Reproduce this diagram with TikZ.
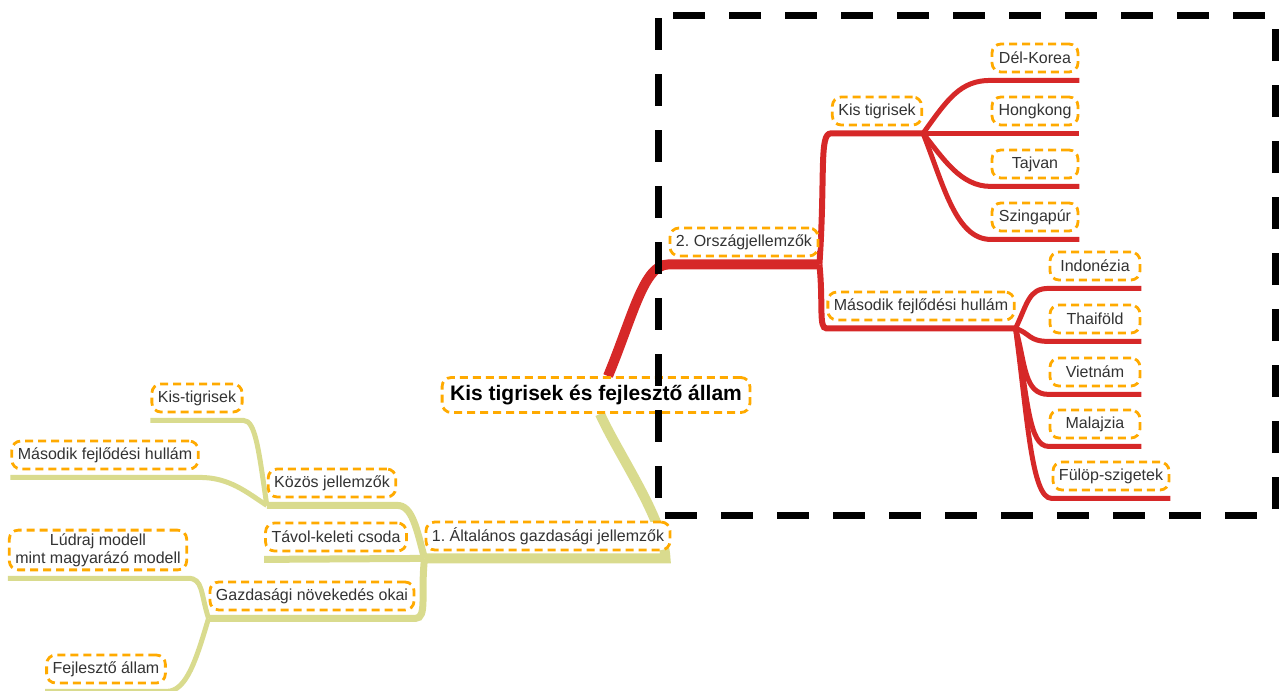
\documentclass[tikz,border=0pt]{standalone}
\usepackage{fontspec}
\setmainfont{Liberation Sans}
\frenchspacing
\usetikzlibrary{backgrounds}
\definecolor{topicorange}{RGB}{255,170,0}
\definecolor{branchred}{RGB}{214,40,40}
\definecolor{brancholive}{RGB}{217,219,142}
\definecolor{topictext}{RGB}{51,51,51}
\tikzset{
    topic/.style={draw=topicorange, fill=white, line width=2.8pt, dash pattern=on 8pt off 5pt,
        rounded corners=9pt, text=topictext, font=\fontsize{16}{19}\selectfont,
        inner xsep=6pt, minimum height=28pt},
    roottopic/.style={topic, text=black, font=\fontsize{21}{23}\selectfont\bfseries,
        inner xsep=8pt, minimum height=35pt},
    leafa/.style={topic, minimum width=86pt},
    leafb/.style={topic, minimum width=90pt},
    redtrunk/.style={draw=branchred, line width=10pt},
    redbranch/.style={draw=branchred, line width=6pt},
    redleaf/.style={draw=branchred, line width=5pt},
    olivetrunk/.style={draw=brancholive, line width=10pt},
    olivebranch/.style={draw=brancholive, line width=7pt},
    oliveleaf/.style={draw=brancholive, line width=5pt},
    groupframe/.style={draw=black, line width=7pt, dash pattern=on 32pt off 24pt, dash phase=53pt},
}
\begin{document}
\begin{tikzpicture}[x=1pt, y=-1pt]
    \useasboundingbox (0,0) rectangle (1283,691);
    %
    \node[roottopic] (root) at (596,395) {Kis tigrisek és fejlesztő állam};
    %
    \node[topic] (orz)    at (744,242) {2. Országjellemzők};
    \node[topic] (kistig) at (877,111) {Kis tigrisek};
    \node[leafa] (delk)   at (1035,58)  {Dél-Korea};
    \node[leafa] (hongk)  at (1035,111) {Hongkong};
    \node[leafa] (tajv)   at (1035,164) {Tajvan};
    \node[leafa] (szing)  at (1035,217) {Szingapúr};
    \node[topic] (masod)  at (921,306) {Második fejlődési hullám};
    \node[leafb] (indo)   at (1095,266) {Indonézia};
    \node[leafb] (thai)   at (1095,319) {Thaiföld};
    \node[leafb] (viet)   at (1095,372) {Vietnám};
    \node[leafb] (mal)    at (1095,424) {Malajzia};
    \node[topic] (fulop)  at (1111,476) {Fülöp-szigetek};
    %
    \node[topic] (alt)    at (548,536) {1. Általános gazdasági jellemzők};
    \node[topic] (kozos)  at (332,483) {Közös jellemzők};
    \node[topic] (tavol)  at (336,537) {Távol-keleti csoda};
    \node[topic] (kistl)  at (197,398) {Kis-tigrisek};
    \node[topic] (masl)   at (105,455) {Második fejlődési hullám};
    \node[topic] (gazd)   at (312,596) {Gazdasági növekedés okai};
    \node[topic, align=center, font=\fontsize{16}{18}\selectfont] (ludr) at (98,550) {Lúdraj modell\\mint magyarázó modell};
    \node[topic] (fejl)   at (106,669) {Fejlesztő állam};
    %
    \begin{scope}[on background layer]
    % right branch
    \draw[redtrunk] ([xshift=12pt]root.north) .. controls +(25,-60) and +(-25,0) .. ([yshift=-7pt]orz.south west) -- ([yshift=-7pt]orz.south east);
    \draw[redbranch] ([yshift=-7pt]orz.south east) .. controls +(6,-90) and +(-12,0) .. ([yshift=-7pt]kistig.south west) -- ([yshift=-7pt]kistig.south east);
    \draw[redbranch] ([yshift=-7pt]orz.south east) .. controls +(4,40) and +(-8,0) .. ([yshift=-7pt]masod.south west) -- ([yshift=-7pt]masod.south east);
    \draw[redleaf] ([yshift=-7pt]kistig.south east) .. controls +(25,-35) and +(-30,0) .. ([yshift=-7pt]delk.south west) -- ([yshift=-7pt]delk.south east);
    \draw[redleaf] ([yshift=-7pt]kistig.south east) -- ([yshift=-7pt]hongk.south west) -- ([yshift=-7pt]hongk.south east);
    \draw[redleaf] ([yshift=-7pt]kistig.south east) .. controls +(20,25) and +(-30,0) .. ([yshift=-7pt]tajv.south west) -- ([yshift=-7pt]tajv.south east);
    \draw[redleaf] ([yshift=-7pt]kistig.south east) .. controls +(20,50) and +(-35,0) .. ([yshift=-7pt]szing.south west) -- ([yshift=-7pt]szing.south east);
    \draw[redleaf] ([yshift=-7pt]masod.south east) .. controls +(12,-25) and +(-20,0) .. ([yshift=-7pt]indo.south west) -- ([yshift=-7pt]indo.south east);
    \draw[redleaf] ([yshift=-7pt]masod.south east) .. controls +(15,5) and +(-20,0) .. ([yshift=-7pt]thai.south west) -- ([yshift=-7pt]thai.south east);
    \draw[redleaf] ([yshift=-7pt]masod.south east) .. controls +(10,35) and +(-25,0) .. ([yshift=-7pt]viet.south west) -- ([yshift=-7pt]viet.south east);
    \draw[redleaf] ([yshift=-7pt]masod.south east) .. controls +(12,70) and +(-20,0) .. ([yshift=-7pt]mal.south west) -- ([yshift=-7pt]mal.south east);
    \draw[redleaf] ([yshift=-7pt]masod.south east) .. controls +(12,90) and +(-20,0) .. ([yshift=-7pt]fulop.south west) -- ([yshift=-7pt]fulop.south east);
    %
    % left branch
    \draw[olivetrunk] ([xshift=4pt]root.south) .. controls +(18,40) and +(-2,-40) .. ([xshift=-6pt,yshift=-7pt]alt.south east) -- ([yshift=-7pt]alt.south west);
    \draw[olivebranch] ([yshift=-7pt]alt.south west) .. controls +(-8,-30) and +(15,0) .. ([yshift=-7pt]kozos.south east) -- ([yshift=-7pt]kozos.south west);
    \draw[olivebranch] ([yshift=-7pt]alt.south west) -- ([yshift=-7pt]tavol.south west);
    \draw[olivebranch] ([yshift=-7pt]alt.south west) .. controls +(-4,35) and +(12,0) .. ([yshift=-7pt]gazd.south east) -- ([yshift=-7pt]gazd.south west);
    \draw[oliveleaf] ([yshift=-7pt]kozos.south west) .. controls +(-8,-55) and +(12,0) .. ([yshift=-7pt]kistl.south east) -- ([yshift=-7pt]kistl.south west);
    \draw[oliveleaf] ([yshift=-7pt]kozos.south west) .. controls +(-20,-13) and +(30,0) .. ([yshift=-7pt]masl.south east) -- ([yshift=-7pt]masl.south west);
    \draw[oliveleaf] ([yshift=-7pt]gazd.south west) .. controls +(-8,-25) and +(15,0) .. ([yshift=-7pt]ludr.south east) -- ([yshift=-7pt]ludr.south west);
    \draw[oliveleaf] ([yshift=-7pt]gazd.south west) .. controls +(-12,40) and +(20,0) .. ([yshift=-7pt]fejl.south east) -- ([yshift=-7pt]fejl.south west);
    \end{scope}
    %
    \draw[groupframe] (658,15) -- (658,515) -- (1275,515) -- (1275,15) -- cycle;
\end{tikzpicture}
\end{document}
